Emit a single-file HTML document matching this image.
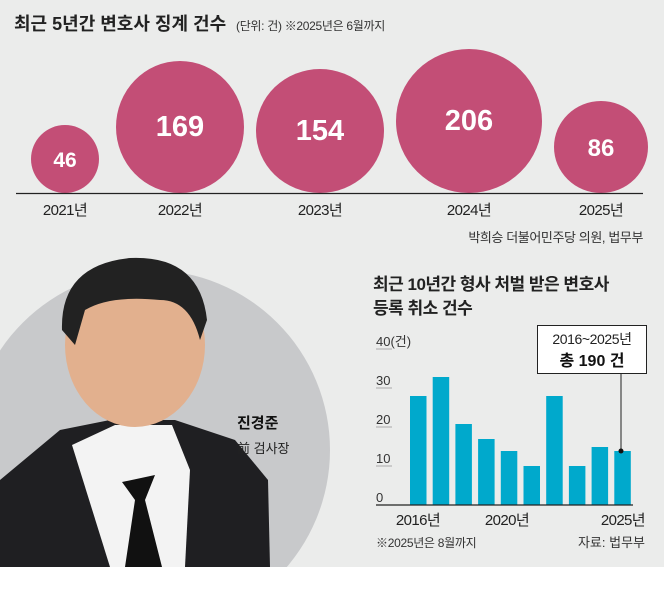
<!DOCTYPE html>
<html><head><meta charset="utf-8"><style>
body{margin:0;width:664px;height:605px;background:#fff;overflow:hidden}
svg{display:block}
text{font-family:"Liberation Sans","Noto Sans CJK KR",sans-serif}
</style></head><body>
<svg width="664" height="605" viewBox="0 0 664 605">
<defs><clipPath id="c"><rect x="0" y="0" width="664" height="567"/></clipPath></defs>
<rect x="0" y="0" width="664" height="567" fill="#ebeceb"/>
<text x="14" y="30" font-size="18" font-weight="bold" fill="#222">최근 5년간 변호사 징계 건수</text>
<text x="236" y="30" font-size="12" fill="#333" letter-spacing="-0.3">(단위: 건) ※2025년은 6월까지</text>
<g fill="#c34e76">
<circle cx="65" cy="159" r="34"/>
<ellipse cx="180" cy="127" rx="64" ry="66"/>
<ellipse cx="320" cy="131" rx="64" ry="62"/>
<ellipse cx="469" cy="121" rx="73" ry="72"/>
<ellipse cx="601" cy="147" rx="47" ry="46"/>
</g>
<g fill="#fff" font-weight="bold" text-anchor="middle">
<text x="65" y="167" font-size="21">46</text>
<text x="180" y="136" font-size="29">169</text>
<text x="320" y="140" font-size="29">154</text>
<text x="469" y="130" font-size="29">206</text>
<text x="601" y="156" font-size="24">86</text>
</g>
<line x1="16" y1="193.5" x2="643" y2="193.5" stroke="#222" stroke-width="1.3"/>
<g font-size="15" fill="#222" text-anchor="middle" letter-spacing="-0.6">
<text x="65" y="215">2021년</text>
<text x="180" y="215">2022년</text>
<text x="320" y="215">2023년</text>
<text x="469" y="215">2024년</text>
<text x="601" y="215">2025년</text>
</g>
<text x="643" y="242" font-size="13" fill="#333" text-anchor="end" letter-spacing="-0.4">박희승 더불어민주당 의원, 법무부</text>

<g clip-path="url(#c)">
<circle cx="150" cy="450" r="180" fill="#c8c9cb"/>
<path d="M0 480 L60 430 L110 420 L175 420 L235 440 L268 480 L270 567 L0 567 Z" fill="#1f1f22"/>
<path d="M72 445 L115 425 L172 425 L190 470 L185 567 L110 567 Z" fill="#f3f3f3"/>
<path d="M122 482 L155 475 L145 500 L162 567 L125 567 L135 500 Z" fill="#111"/>
<ellipse cx="135" cy="345" rx="70" ry="82" fill="#e2b08e"/>
<path d="M62 330 Q60 265 130 258 Q200 255 207 320 L200 340 Q190 300 160 300 Q110 295 85 310 L75 345 Z" fill="#222"/>
</g>
<text x="237" y="428" font-size="15" font-weight="bold" fill="#111">진경준</text>
<text x="237" y="453" font-size="13" fill="#222">前 검사장</text>

<text x="373" y="290" font-size="17" font-weight="bold" fill="#222" letter-spacing="-0.5">최근 10년간 형사 처벌 받은 변호사</text>
<text x="373" y="314" font-size="17" font-weight="bold" fill="#222" letter-spacing="-0.5">등록 취소 건수</text>
<g font-size="13" fill="#333">
<text x="376" y="346">40(건)</text>
<text x="376" y="385">30</text>
<text x="376" y="424">20</text>
<text x="376" y="463">10</text>
<text x="376" y="502">0</text>
</g>
<g stroke="#999" stroke-width="0.8">
<line x1="376" y1="349" x2="392" y2="349"/>
<line x1="376" y1="388" x2="392" y2="388"/>
<line x1="376" y1="427" x2="392" y2="427"/>
<line x1="376" y1="466" x2="392" y2="466"/>
</g>
<g fill="#00a9cc">
<rect x="410" y="396" width="16.5" height="109"/>
<rect x="432.7" y="377" width="16.5" height="128"/>
<rect x="455.4" y="424" width="16.5" height="81"/>
<rect x="478.1" y="439" width="16.5" height="66"/>
<rect x="500.8" y="451" width="16.5" height="54"/>
<rect x="523.5" y="466" width="16.5" height="39"/>
<rect x="546.2" y="396" width="16.5" height="109"/>
<rect x="568.9" y="466" width="16.5" height="39"/>
<rect x="591.6" y="447" width="16.5" height="58"/>
<rect x="614.3" y="451" width="16.5" height="54"/>
</g>
<line x1="376" y1="505" x2="633" y2="505" stroke="#222" stroke-width="1.2"/>
<line x1="621" y1="374" x2="621" y2="451" stroke="#222" stroke-width="1"/>
<circle cx="621" cy="451" r="2.5" fill="#111"/>
<rect x="537.5" y="325.5" width="109" height="48" fill="#fff" stroke="#222" stroke-width="1"/>
<text x="592" y="344" font-size="14" fill="#222" text-anchor="middle" letter-spacing="-0.4">2016~2025년</text>
<text x="592" y="366" font-size="16" font-weight="bold" fill="#111" text-anchor="middle">총 190 건</text>
<g font-size="15" fill="#222" letter-spacing="-0.6">
<text x="418" y="525" text-anchor="middle">2016년</text>
<text x="507" y="525" text-anchor="middle">2020년</text>
<text x="645" y="525" text-anchor="end">2025년</text>
</g>
<text x="376" y="547" font-size="12" fill="#333" letter-spacing="-0.3">※2025년은 8월까지</text>
<text x="645" y="547" font-size="13" fill="#333" text-anchor="end">자료: 법무부</text>
</svg>
</body></html>
